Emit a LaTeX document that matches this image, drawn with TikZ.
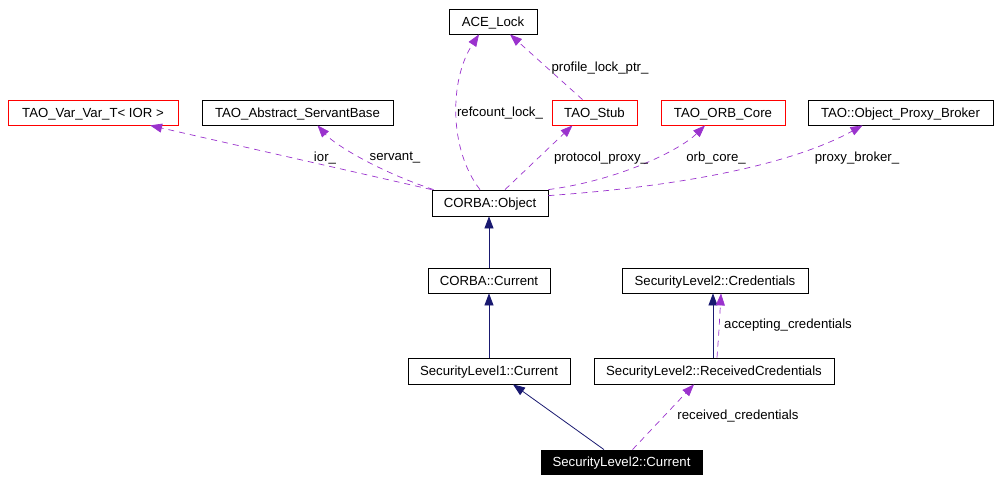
\documentclass[tikz,border=0pt]{standalone}
\usepackage{fontspec}
\setmainfont{Liberation Sans}
\usetikzlibrary{arrows.meta}
\definecolor{orchid}{HTML}{9A32CD}
\definecolor{navyblue}{HTML}{191970}
\begin{document}
\begin{tikzpicture}[x=1pt, y=-1pt, font=\fontsize{13.2}{15}\selectfont,
  cls/.style={draw, line width=.8pt, minimum height=25pt, inner sep=0pt, text height=9.4pt, text depth=0pt},
  red cls/.style={cls, draw=red},
  tip/.style={-{Triangle[length=12pt, width=9pt]}},
  use/.style={tip, draw=orchid, line width=.7pt, dash pattern=on 6pt off 5pt},
  inh/.style={tip, draw=navyblue, line width=.8pt}]
\useasboundingbox (0,0) rectangle (999,482);
\node[cls, minimum width=88pt] (ace) at (493,21.5) {ACE\_Lock};
\node[red cls, minimum width=170pt] (varvar) at (93,112.5) {TAO\_Var\_Var\_T< IOR >};
\node[cls, minimum width=191pt] (servant) at (297.5,112.5) {TAO\_Abstract\_ServantBase};
\node[red cls, minimum width=85pt] (stub) at (594.5,112.5) {TAO\_Stub};
\node[red cls, minimum width=124pt] (orb) at (723,112.5) {TAO\_ORB\_Core};
\node[cls, minimum width=185pt] (broker) at (900.5,112.5) {TAO::Object\_Proxy\_Broker};
\node[cls, minimum width=116pt, minimum height=26pt] (obj) at (490,203) {CORBA::Object};
\node[cls, minimum width=122pt] (cur) at (489,280.5) {CORBA::Current};
\node[cls, minimum width=186pt] (cred) at (715,280.5) {SecurityLevel2::Credentials};
\node[cls, minimum width=162pt, minimum height=26pt] (sl1) at (489,371) {SecurityLevel1::Current};
\node[cls, minimum width=240pt, minimum height=26pt] (recv) at (714,371) {SecurityLevel2::ReceivedCredentials};
\node[cls, fill=black, text=white, minimum width=161pt, minimum height=24pt] (sl2) at (621.5,462) {SecurityLevel2::Current};
\draw[use] ([xshift=-10pt]obj.north) .. controls (449,150) and (449,80) .. ([xshift=-14pt]ace.south);
\draw[use] ([xshift=-12pt]stub.north) -- ([xshift=17pt]ace.south);
\draw[use] ([xshift=15pt]obj.north) -- ([xshift=-22pt]stub.south);
\draw[use] (obj.north east) .. controls (620,180) and (680,150) .. ([xshift=-18pt]orb.south);
\draw[use] ([yshift=-6pt]obj.north east) .. controls (700,185) and (800,160) .. ([xshift=-38pt]broker.south);
\draw[use] (obj.north west) -- ([xshift=57pt]varvar.south);
\draw[use] ([xshift=2pt]obj.north west) .. controls (380,172) and (335,145) .. ([xshift=20pt]servant.south);
\draw[inh] (cur.north) -- (cur.north |- obj.south);
\draw[inh] (sl1.north) -- (cur.south);
\draw[inh] ([xshift=-17.5pt]sl2.north) -- ([xshift=24pt]sl1.south);
\draw[use] ([xshift=11pt]sl2.north) -- ([xshift=-20pt]recv.south);
\draw[inh] ([xshift=-1pt]recv.north) -- ([xshift=-2pt]cred.south);
\draw[use] ([xshift=3pt]recv.north) .. controls (719,330) .. ([xshift=6pt]cred.south);
\node (lref) at (500,113) {refcount\_lock\_};
\node (lprof) at (600,68) {profile\_lock\_ptr\_};
\node (lprot) at (601,158) {protocol\_proxy\_};
\node (lorb) at (716,158) {orb\_core\_};
\node (lbrk) at (857,158) {proxy\_broker\_};
\node (lior) at (325,158) {ior\_};
\node (lserv) at (395,158) {servant\_};
\node (lrecv) at (738,416) {received\_credentials};
\node (lacc) at (788,325) {accepting\_credentials};
\end{tikzpicture}
\end{document}
